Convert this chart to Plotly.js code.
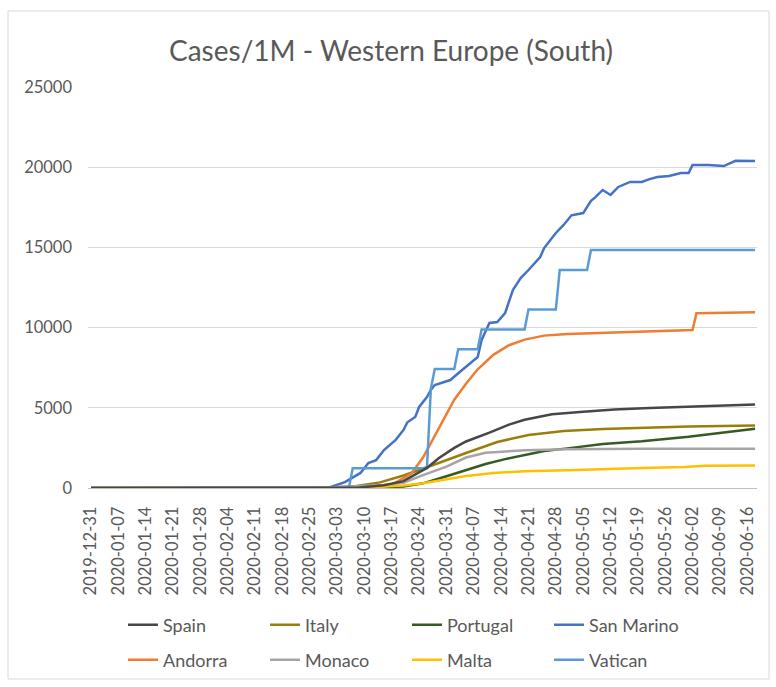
<!DOCTYPE html>
<html>
<head>
<meta charset="utf-8">
<script src="https://cdn.plot.ly/plotly-3.0.1.min.js"></script>
<style>
  html, body { margin: 0; padding: 0; background: #ffffff; }
  #chart { width: 776px; height: 687px; }
</style>
</head>
<body>
<div id="chart"></div>
<script>
// ---- Data (cases per 1M population) ----
const weekTicks = ["2019-12-31","2020-01-07","2020-01-14","2020-01-21","2020-01-28","2020-02-04","2020-02-11","2020-02-18","2020-02-25","2020-03-03","2020-03-10","2020-03-17","2020-03-24","2020-03-31","2020-04-07","2020-04-14","2020-04-21","2020-04-28","2020-05-05","2020-05-12","2020-05-19","2020-05-26","2020-06-02","2020-06-09","2020-06-16"];

const spainDates = ["2019-12-31","2020-03-01","2020-03-08","2020-03-15","2020-03-20","2020-03-26","2020-03-29","2020-04-02","2020-04-05","2020-04-11","2020-04-16","2020-04-20","2020-04-27","2020-05-05","2020-05-13","2020-05-22","2020-05-31","2020-06-10","2020-06-18"];
const spainVals  = [0, 2, 15, 170, 430, 1250, 1850, 2500, 2900, 3450, 3950, 4250, 4600, 4750, 4900, 4980, 5050, 5150, 5200];

const italyDates = ["2019-12-31","2020-02-22","2020-03-01","2020-03-08","2020-03-14","2020-03-20","2020-03-26","2020-03-29","2020-04-05","2020-04-13","2020-04-21","2020-04-30","2020-05-10","2020-05-20","2020-06-01","2020-06-18"];
const italyVals  = [0, 1, 19, 122, 350, 780, 1330, 1560, 2180, 2870, 3300, 3550, 3680, 3760, 3830, 3900];

const portugalDates = ["2019-12-31","2020-03-02","2020-03-12","2020-03-20","2020-03-25","2020-03-31","2020-04-05","2020-04-10","2020-04-15","2020-04-20","2020-04-25","2020-05-01","2020-05-10","2020-05-20","2020-06-01","2020-06-10","2020-06-18"];
const portugalVals  = [0, 0, 5, 100, 290, 730, 1110, 1500, 1800, 2050, 2300, 2470, 2750, 2910, 3190, 3460, 3700];

const sanMarinoDates = ["2019-12-31","2020-02-27","2020-03-01","2020-03-05","2020-03-09","2020-03-11","2020-03-13","2020-03-15","2020-03-17","2020-03-18","2020-03-20","2020-03-21","2020-03-23","2020-03-24","2020-03-26","2020-03-27","2020-03-28","2020-04-01","2020-04-04","2020-04-08","2020-04-09","2020-04-11","2020-04-13","2020-04-15","2020-04-17","2020-04-19","2020-04-21","2020-04-24","2020-04-25","2020-04-27","2020-04-28","2020-04-30","2020-05-02","2020-05-05","2020-05-07","2020-05-08","2020-05-10","2020-05-12","2020-05-14","2020-05-17","2020-05-20","2020-05-22","2020-05-24","2020-05-27","2020-05-30","2020-06-01","2020-06-02","2020-06-06","2020-06-10","2020-06-13","2020-06-18"];
const sanMarinoVals  = [0, 0, 30, 370, 940, 1560, 1740, 2370, 2800, 3000, 3620, 4100, 4430, 5050, 5670, 6110, 6420, 6730, 7360, 8170, 9230, 10290, 10350, 10900, 12340, 13090, 13590, 14400, 14960, 15580, 15900, 16400, 17000, 17140, 17900, 18100, 18580, 18270, 18770, 19080, 19080, 19260, 19390, 19450, 19640, 19640, 20140, 20140, 20070, 20400, 20380];

const andorraDates = ["2019-12-31","2020-03-12","2020-03-14","2020-03-17","2020-03-22","2020-03-25","2020-03-27","2020-03-30","2020-04-02","2020-04-05","2020-04-08","2020-04-12","2020-04-16","2020-04-20","2020-04-25","2020-05-01","2020-05-10","2020-05-20","2020-06-01","2020-06-02","2020-06-03","2020-06-18"];
const andorraVals  = [0, 0, 13, 190, 900, 1900, 2800, 4100, 5500, 6500, 7400, 8300, 8900, 9250, 9500, 9600, 9680, 9760, 9840, 9850, 10900, 10950];

const monacoDates = ["2019-12-31","2020-02-28","2020-02-29","2020-03-15","2020-03-20","2020-03-25","2020-03-31","2020-04-05","2020-04-10","2020-04-20","2020-05-01","2020-05-20","2020-06-18"];
const monacoVals  = [0, 0, 25, 180, 330, 800, 1330, 1900, 2200, 2350, 2420, 2440, 2450];

const maltaDates = ["2019-12-31","2020-03-06","2020-03-07","2020-03-15","2020-03-20","2020-03-25","2020-03-31","2020-04-05","2020-04-12","2020-04-20","2020-05-01","2020-05-10","2020-05-20","2020-05-31","2020-06-05","2020-06-18"];
const maltaVals  = [0, 0, 2, 90, 150, 300, 560, 750, 930, 1050, 1110, 1190, 1250, 1310, 1380, 1400];

const vaticanDates = ["2019-12-31","2020-03-06","2020-03-07","2020-03-26","2020-03-27","2020-03-28","2020-04-02","2020-04-03","2020-04-08","2020-04-09","2020-04-20","2020-04-21","2020-04-28","2020-04-29","2020-05-06","2020-05-07","2020-06-18"];
const vaticanVals  = [0, 0, 1236, 1236, 6180, 7416, 7416, 8653, 8653, 9889, 9889, 11124, 11124, 13597, 13597, 14833, 14833];

const seriesNames = ["Spain","Italy","Portugal","San Marino","Andorra","Monaco","Malta","Vatican"];
const seriesColors = ["#474747","#9a7d0a","#375a22","#4472c4","#ed7d31","#a5a5a5","#ffc000","#5b9bd5"];

// ---- Build traces ----
const allDates = [spainDates, italyDates, portugalDates, sanMarinoDates, andorraDates, monacoDates, maltaDates, vaticanDates];
const allVals  = [spainVals, italyVals, portugalVals, sanMarinoVals, andorraVals, monacoVals, maltaVals, vaticanVals];

// drawing order: Spain on top (it shows along the zero line in the reference)
const drawOrder = [1, 2, 3, 4, 5, 6, 7, 0];

const traces = drawOrder.map(i => {
  const t = {
    type: "scatter",
    mode: "lines",
    name: seriesNames[i],
    x: allDates[i],
    y: allVals[i],
    line: { color: seriesColors[i], width: 2.5 },
    legend: i < 4 ? "legend" : "legend2",
    legendrank: (i % 4) + 1,
    hoverinfo: "x+y+name"
  };
  if (i === 3 || i === 7) t.legendwidth = 120;
  return t;
});

// ---- Layout geometry ----
const W = 776, H = 687;
const plotL = 88, plotR = 757, plotT = 87, plotB = 488;
const pw = plotR - plotL, ph = plotB - plotT;
const px = v => (v - plotL) / pw;
const py = v => (plotB - v) / ph;

const txt = "#595959";
const fontFam = "Lato, 'Open Sans', 'Liberation Sans', sans-serif";

const legendCommon = {
  orientation: "h",
  xanchor: "left",
  yanchor: "middle",
  bgcolor: "rgba(0,0,0,0)",
  font: { family: fontFam, size: 18, color: txt },
  entrywidth: 97,
  entrywidthmode: "pixels",
  itemclick: false,
  itemdoubleclick: false,
  tracegroupgap: 0,
  traceorder: "normal"
};

const layout = {
  width: W,
  height: H,
  paper_bgcolor: "#ffffff",
  plot_bgcolor: "#ffffff",
  margin: { l: plotL, r: W - plotR, t: plotT, b: H - plotB, autoexpand: false },
  font: { family: fontFam, color: txt },
  title: {
    text: "Cases/1M - Western Europe (South)",
    font: { family: fontFam, size: 28, color: txt },
    xref: "container", x: 391 / W, xanchor: "center",
    yref: "container", y: 1 - 51 / H, yanchor: "middle"
  },
  xaxis: {
    type: "date",
    range: ["2019-12-30 05:30", "2020-06-18 12:00"],
    tickmode: "array",
    tickvals: weekTicks,
    ticktext: weekTicks,
    tickangle: -90,
    tickfont: { family: fontFam, size: 16.5, color: txt },
    ticks: "",
    ticklabelstandoff: 11,
    showgrid: false,
    showline: true,
    linecolor: "#bfbfbf",
    linewidth: 1,
    zeroline: false,
    fixedrange: true
  },
  yaxis: {
    range: [0, 25000],
    tickvals: [0, 5000, 10000, 15000, 20000, 25000],
    ticktext: ["0", "5000", "10000", "15000", "20000", "25000"],
    tickfont: { family: fontFam, size: 16.5, color: txt },
    ticks: "",
    ticklabelstandoff: 15,
    showgrid: true,
    gridcolor: "#d9d9d9",
    gridwidth: 1,
    showline: false,
    zeroline: false,
    fixedrange: true
  },
  legend: Object.assign({}, legendCommon, { x: px(123), y: py(625) }),
  legend2: Object.assign({}, legendCommon, { x: px(123), y: py(660) }),
  shapes: [
    {
      type: "rect", xref: "paper", yref: "paper",
      x0: px(8), x1: px(769), y0: py(679), y1: py(11),
      line: { color: "#d9d9d9", width: 1 },
      fillcolor: "rgba(0,0,0,0)",
      layer: "below"
    }
  ],
  showlegend: true
};

Plotly.newPlot("chart", traces, layout, { displayModeBar: false, staticPlot: true });
</script>
</body>
</html>
